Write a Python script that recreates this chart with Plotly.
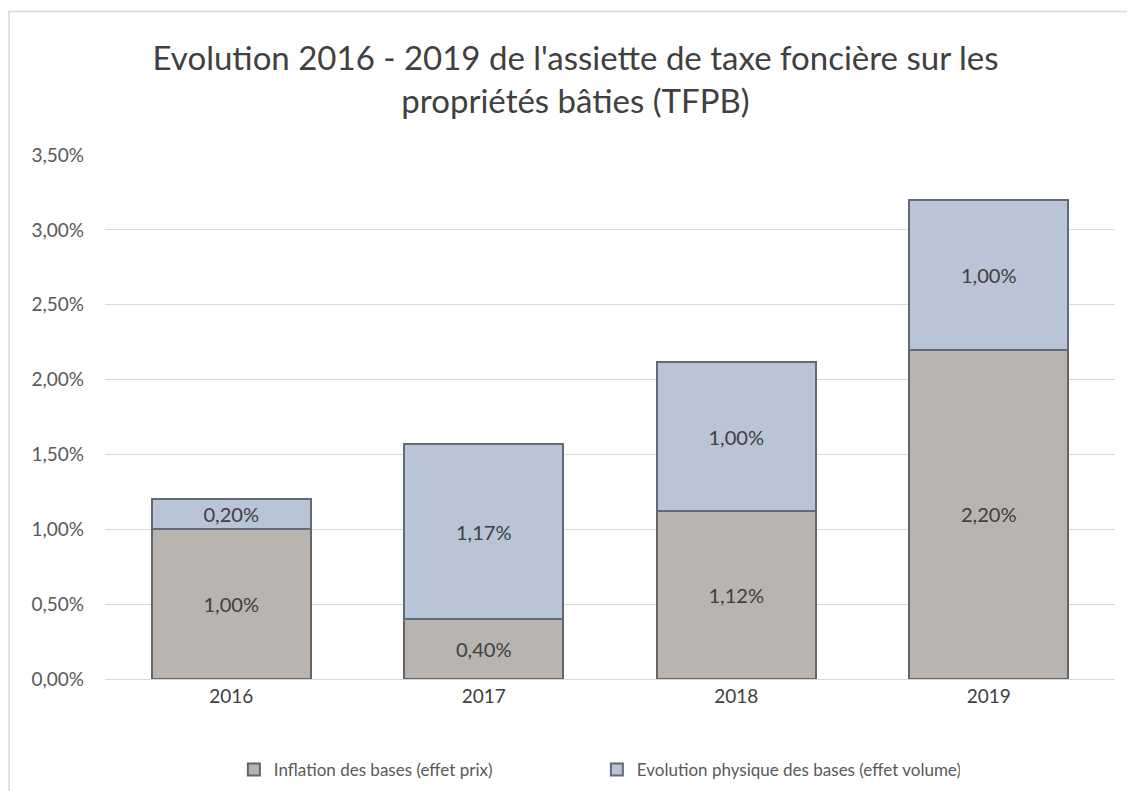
import plotly.graph_objects as go

years = ["2016", "2017", "2018", "2019"]
inflation = [1.00, 0.40, 1.12, 2.20]
volume = [0.20, 1.17, 1.00, 1.00]
tick_vals = [0, 0.5, 1.0, 1.5, 2.0, 2.5, 3.0, 3.5]
tick_text = ["0,00%", "0,50%", "1,00%", "1,50%", "2,00%", "2,50%", "3,00%", "3,50%"]

def fmt(v):
    return f"{v:.2f}".replace(".", ",") + "%"

FONT = "Lato, Carlito, Calibri, sans-serif"

fig = go.Figure()
fig.add_trace(go.Bar(
    x=years, y=inflation, name="Inflation des bases (effet prix)",
    marker=dict(color="#b9b4b0", line=dict(color="#676462", width=2)),
    text=[fmt(v) for v in inflation], textposition="inside", insidetextanchor="middle",
    textfont=dict(family=FONT, size=21, color="#404040"),
))
fig.add_trace(go.Bar(
    x=years, y=volume, name="Evolution physique des bases (effet volume)",
    marker=dict(color="#b9c4d6", line=dict(color="#626a78", width=2)),
    text=[fmt(v) for v in volume], textposition="inside", insidetextanchor="middle",
    textfont=dict(family=FONT, size=21, color="#404040"),
))

fig.update_layout(
    barmode="stack", bargap=0.37,
    width=1135, height=791,
    paper_bgcolor="white", plot_bgcolor="white",
    font=dict(family=FONT, color="#595959"),
    title=dict(text="Evolution 2016 - 2019 de l'assiette de taxe foncière sur les<br>propriétés bâties (TFPB)",
               x=0.5, xanchor="center", y=0.921, yanchor="top",
               font=dict(family=FONT, size=33, color="#404040")),
    margin=dict(l=97, r=28, t=147, b=119),
    uniformtext=dict(minsize=10, mode="show"),
    legend=dict(orientation="h", x=0.487, xanchor="center", y=-0.137, yanchor="top",
                font=dict(family=FONT, size=17, color="#595959"), traceorder="normal",
                itemwidth=30, entrywidth=318, entrywidthmode="pixels"),
    showlegend=True,
)
fig.update_yaxes(range=[0, 3.5], tickvals=tick_vals, ticktext=tick_text,
                 showgrid=True, gridcolor="#d9d9d9", gridwidth=1,
                 zeroline=False, showline=False, ticks="",
                 tickfont=dict(family=FONT, size=19, color="#595959"), ticklabelstandoff=20)
fig.update_xaxes(showline=True, linecolor="#d9d9d9", linewidth=1, ticks="",
                 tickfont=dict(family=FONT, size=19, color="#404040"))

fig.add_shape(type="rect", xref="paper", yref="paper", x0=-0.095, x1=1.2, y0=-0.4, y1=1.274,
              line=dict(color="#d9d9d9", width=1.5), fillcolor="rgba(0,0,0,0)", layer="below")

fig.write_html("out.html")
